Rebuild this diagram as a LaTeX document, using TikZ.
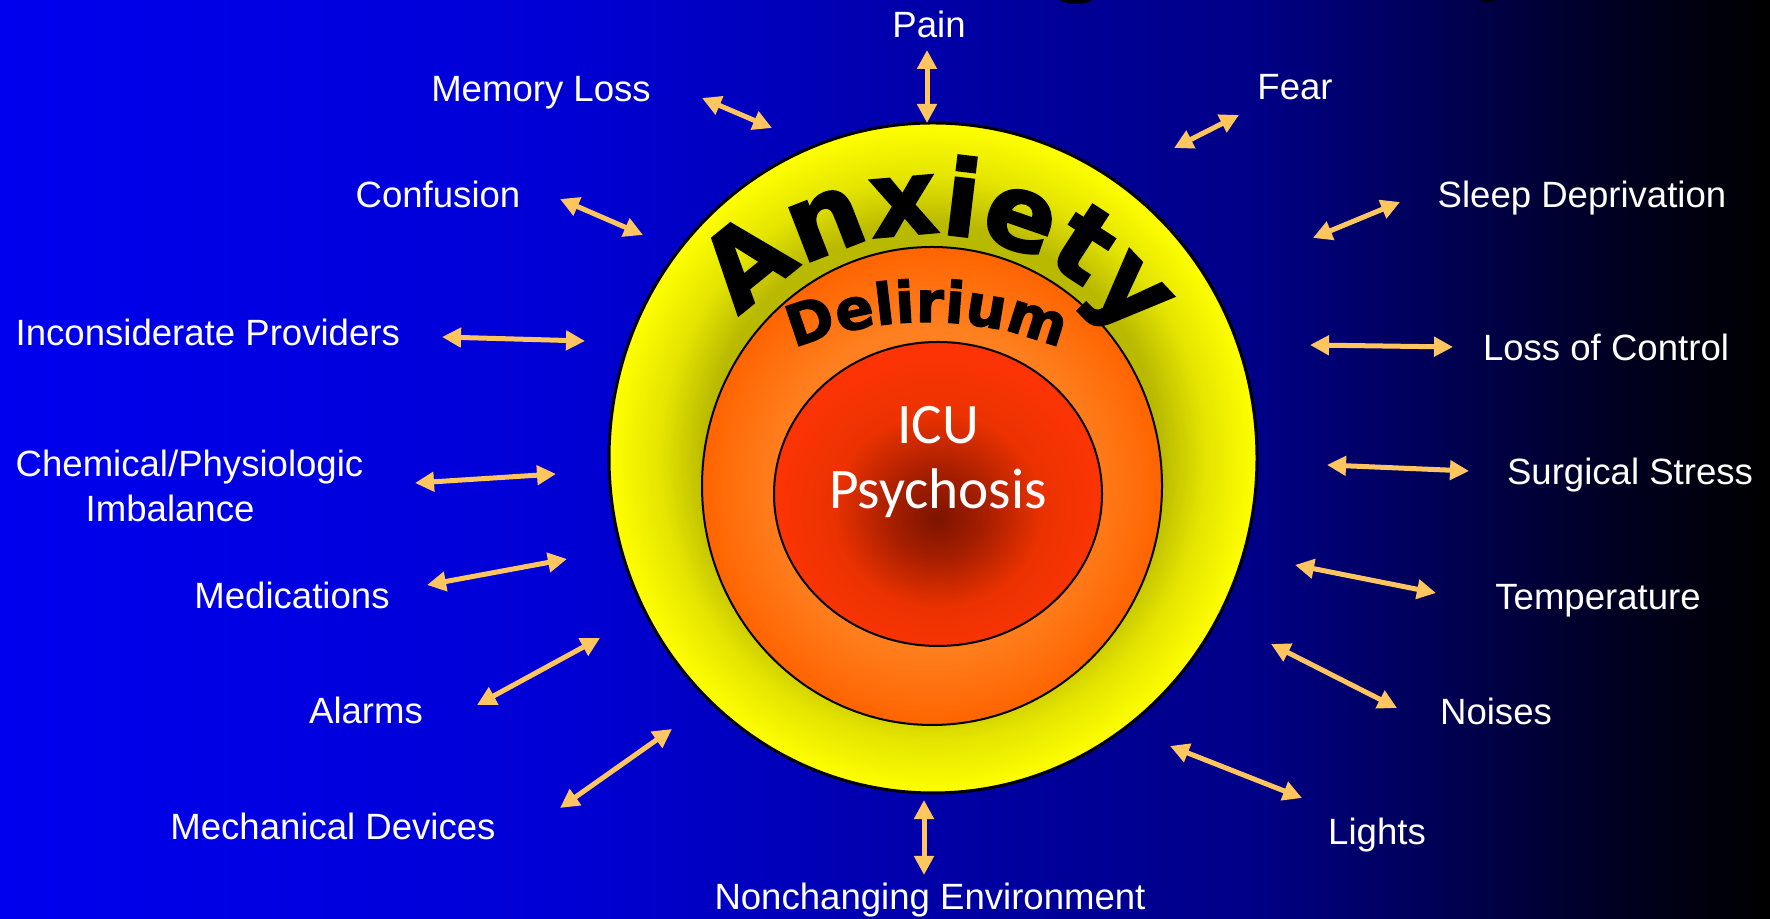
\documentclass[tikz,border=0pt]{standalone}
\usepackage{fontspec}
\setmainfont{Liberation Sans}
\newfontfamily\heavyfont[FakeBold=2]{DejaVu Sans Bold}
\newfontfamily\corefont{Carlito}
\usetikzlibrary{arrows.meta, decorations.text}

% Colours
\definecolor{bg0}{RGB}{0,0,238}
\definecolor{bg1}{RGB}{0,0,213}
\definecolor{bg2}{RGB}{0,0,150}
\definecolor{bg3}{RGB}{0,0,136}
\definecolor{bg4}{RGB}{0,0,96}
\definecolor{bg5}{RGB}{0,0,32}
\definecolor{ringdark}{RGB}{185,185,0}
\definecolor{ringmid}{RGB}{228,228,0}
\definecolor{ringlite}{RGB}{255,255,0}
\definecolor{delmid}{RGB}{255,128,32}
\definecolor{deledge}{RGB}{255,100,0}
\definecolor{icucore}{RGB}{125,20,0}
\definecolor{icudeep}{RGB}{165,30,0}
\definecolor{icuhot}{RGB}{235,50,0}
\definecolor{icuedge}{RGB}{252,52,5}
\definecolor{arrowgold}{RGB}{255,198,96}

% Shadings
\pgfdeclarehorizontalshading{bgshade}{100bp}{color(0bp)=(bg0); color(25bp)=(bg0); color(40.8bp)=(bg1); color(55.5bp)=(bg2); color(60.3bp)=(bg3); color(64.5bp)=(bg4); color(70.8bp)=(bg5); color(75bp)=(black); color(100bp)=(black)}
\pgfdeclareradialshading{anxshade}{\pgfpointorigin}{color(0bp)=(ringdark); color(17.5bp)=(ringdark); color(21bp)=(ringmid); color(25bp)=(ringlite); color(50bp)=(ringlite)}
\pgfdeclareradialshading{delshade}{\pgfpointorigin}{color(0bp)=(delmid); color(16.5bp)=(delmid); color(25bp)=(deledge); color(50bp)=(deledge)}
\pgfdeclareradialshading{icushade}{\pgfpoint{0bp}{-4bp}}{color(0bp)=(icucore); color(7bp)=(icudeep); color(16bp)=(icuhot); color(25bp)=(icuedge); color(50bp)=(icuedge)}

\begin{document}
\begin{tikzpicture}[
    x=0.01cm, y=0.01cm,
    label/.style={text=white, font=\fontsize{10.4}{12.5}\selectfont, inner sep=0pt},
    core/.style={text=white, font=\corefont\fontsize{16.3}{18.5}\selectfont, align=center, inner sep=0pt},
    link/.style={draw=arrowgold, line width=0.05cm,
        {Triangle[length=0.19cm, width=0.19cm]}-{Triangle[length=0.19cm, width=0.19cm]}},
    ring/.style={draw=black, line width=0.02cm}
]

% Background
\shade[shading=bgshade] (0,0) rectangle (1770,919);
\useasboundingbox (0,0) rectangle (1770,919);

% Cut-off title remnants at the top edge
\fill[black] (1076,921) ellipse [x radius=17, y radius=6];
\fill[black] (1488,921) ellipse [x radius=10, y radius=4];

% Rings
\shadedraw[shading=anxshade, draw=black, line width=0.03cm] (933,461) ellipse [x radius=324, y radius=335];
\shadedraw[shading=delshade, ring] (932,433) ellipse [x radius=230, y radius=239];
\shadedraw[shading=icushade, ring] (938,425) ellipse [x radius=164, y radius=152];

% Curved titles
\path[decorate, decoration={text along path, text align=center,
    text={|\heavyfont\fontsize{29.9}{30}\selectfont|Anxiety}}]
    (928,434) ++(147:251) arc[start angle=147, end angle=27, radius=251];
\path[decorate, decoration={text along path, text align=center,
    text={|\heavyfont\fontsize{16.2}{17}\selectfont|Delirium}}]
    (927,250) ++(120:347) arc[start angle=120, end angle=60, radius=347];

\node[core] (icu) at (938,457) {ICU\\Psychosis};

% Factors
\node[label, anchor=base] (pain) at (929,881) {Pain};
\node[label, anchor=base] (memory) at (541,817) {Memory Loss};
\node[label, anchor=base] (fear) at (1295,819) {Fear};
\node[label, anchor=base] (confusion) at (438,711) {Confusion};
\node[label, anchor=base] (sleep) at (1582,711) {Sleep Deprivation};
\node[label, anchor=base west] (providers) at (15,573) {Inconsiderate Providers};
\node[label, anchor=base] (control) at (1606,558) {Loss of Control};
\node[label, anchor=north west, align=left, font=\fontsize{10.4}{13}\selectfont] (chemical) at (15,470)
    {Chemical/Physiologic\\\hspace*{0.70cm}Imbalance};
\node[label, anchor=base] (stress) at (1630,434) {Surgical Stress};
\node[label, anchor=base] (meds) at (292,310) {Medications};
\node[label, anchor=base] (temp) at (1598,309) {Temperature};
\node[label, anchor=base] (alarms) at (366,195) {Alarms};
\node[label, anchor=base] (noises) at (1496,194) {Noises};
\node[label, anchor=base] (mechanical) at (333,79) {Mechanical Devices};
\node[label, anchor=base] (lights) at (1377,74) {Lights};
\node[label, anchor=base] (environment) at (930,9) {Nonchanging Environment};

% Double arrows
\foreach \n/\ax/\ay/\bx/\by in {
    pain/927/869/927/796, memory/702/821/772/791, fear/1174/771/1239/804,
    confusion/560/720/643/684, sleep/1313/681/1400/717,
    providers/442/582/585/578, control/1310/574/1453/572,
    chemical/415/436/556/445, stress/1327/454/1469/448,
    meds/427/334/567/360, temp/1295/354/1436/326,
    alarms/477/214/600/281, noises/1271/275/1397/211,
    lights/1170/173/1302/121, mechanical/560/111/672/190,
    environment/924/119/924/44} {
    \coordinate (\n-a) at (\ax,\ay);
    \coordinate (\n-b) at (\bx,\by);
    \draw[link] (\n-a) -- (\n-b);
}

\end{tikzpicture}
\end{document}
